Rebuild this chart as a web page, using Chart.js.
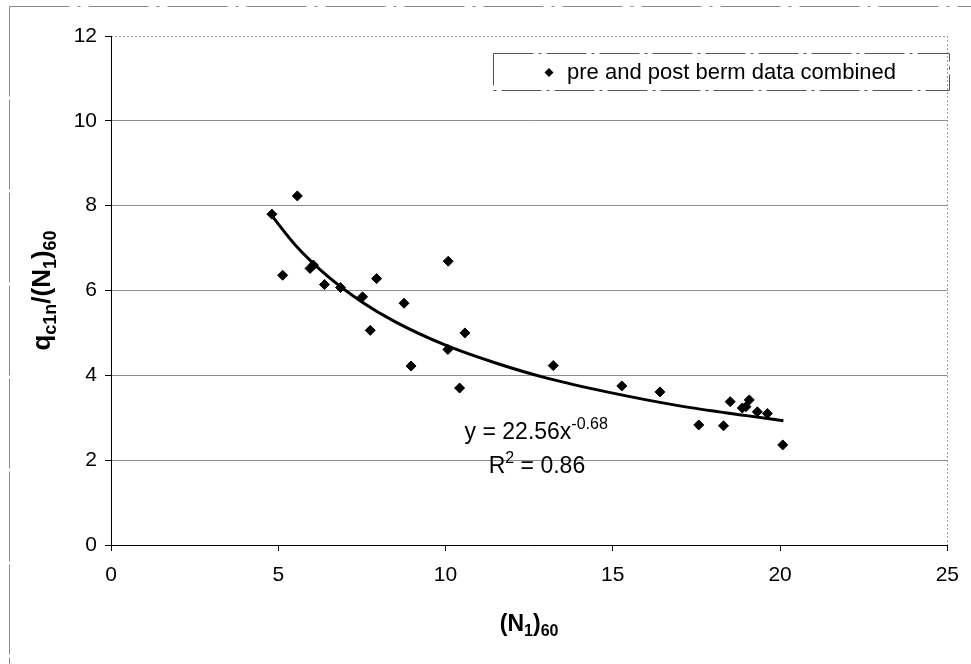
<!DOCTYPE html>
<html>
<head>
<meta charset="utf-8">
<script src="https://cdn.jsdelivr.net/npm/chart.js@4/dist/chart.umd.min.js"></script>
<style>
  html, body { margin: 0; padding: 0; background: #fff; }
  #wrap { width: 971px; height: 664px; position: relative; }
</style>
</head>
<body>
<div id="wrap"><canvas id="c" width="971" height="664"></canvas></div>
<script>
// ---- data ----
const seriesLabel = "pre and post berm data combined";
const xValues = [4.81, 5.57, 5.13, 5.95, 6.05, 6.38, 6.86, 7.94, 7.52, 8.76, 7.75, 10.08, 10.58, 10.07, 8.97, 10.42,
                 13.22, 15.27, 16.41, 17.57, 18.31, 18.51, 19.08, 18.98, 18.87, 19.32, 19.62, 20.08];
const yValues = [7.80, 8.23, 6.36, 6.52, 6.60, 6.14, 6.07, 6.28, 5.85, 5.70, 5.06, 6.69, 5.00, 4.61, 4.22, 3.70,
                 4.23, 3.75, 3.61, 2.83, 2.81, 3.38, 3.42, 3.26, 3.23, 3.14, 3.10, 2.36];
// trendline points
const trendX = [4.8, 5.5, 6.5, 7.5, 8.5, 10, 11.5, 13, 15, 17, 19, 20.1];
const trendY = [7.77, 7.08, 6.32, 5.73, 5.26, 4.71, 4.29, 3.94, 3.58, 3.28, 3.05, 2.93];
const xTicks = [0, 5, 10, 15, 20, 25];
const yTicks = [0, 2, 4, 6, 8, 10, 12];
const equationText = "y = 22.56x";
const equationExp = "-0.68";
const r2Text = " = 0.86";

const FONT = "'Liberation Sans', Arial, sans-serif";

function drawRich(ctx, parts, x, y, size, bold, align) {
  // parts: [text, mode] mode: 0 normal, 1 sub, 2 sup
  const w = parts.map(p => {
    const s = p[1] ? Math.round(size * 0.68) : size;
    ctx.font = (bold ? "bold " : "") + s + "px " + FONT;
    return ctx.measureText(p[0]).width;
  });
  const total = w.reduce((a, b) => a + b, 0);
  let cx = align === 'center' ? x - total / 2 : x;
  ctx.textBaseline = 'middle';
  ctx.textAlign = 'left';
  parts.forEach((p, i) => {
    const s = p[1] ? Math.round(size * 0.68) : size;
    ctx.font = (bold ? "bold " : "") + s + "px " + FONT;
    let dy = 0;
    if (p[1] === 1) dy = size * 0.3;
    if (p[1] === 2) dy = -size * 0.35;
    ctx.fillText(p[0], cx, y + dy);
    cx += w[i];
  });
}

const decor = {
  id: 'decor',
  beforeDraw(chart) {
    const ctx = chart.ctx;
    ctx.save();
    ctx.fillStyle = '#fff';
    ctx.fillRect(0, 0, chart.width, chart.height);
    // outer frame (top and left)
    ctx.strokeStyle = '#8a8a8a';
    ctx.lineWidth = 1;
    ctx.setLineDash([60, 8, 3, 8]);
    ctx.beginPath();
    ctx.moveTo(9.5, 6.5); ctx.lineTo(chart.width, 6.5);
    ctx.stroke();
    ctx.setLineDash([90, 3]);
    ctx.beginPath();
    ctx.moveTo(9.5, 6.5); ctx.lineTo(9.5, chart.height);
    ctx.stroke();
    ctx.restore();
  },
  afterDatasetsDraw(chart) {
    const ctx = chart.ctx;
    const a = chart.chartArea;
    const xs = chart.scales.x, ys = chart.scales.y;
    ctx.save();
    // plot border: top and right dotted grey
    ctx.strokeStyle = '#9a9a9a';
    ctx.lineWidth = 1;
    ctx.setLineDash([2, 2]);
    ctx.beginPath();
    ctx.moveTo(a.left, Math.round(a.top) + 0.5); ctx.lineTo(a.right, Math.round(a.top) + 0.5);
    ctx.moveTo(Math.round(a.right) + 0.5, a.top); ctx.lineTo(Math.round(a.right) + 0.5, a.bottom);
    ctx.stroke();
    ctx.setLineDash([]);
    ctx.strokeStyle = '#000';
    ctx.beginPath();
    ctx.moveTo(Math.round(a.left) + 0.5, a.top); ctx.lineTo(Math.round(a.left) + 0.5, a.bottom);
    ctx.moveTo(a.left, Math.round(a.bottom) + 0.5); ctx.lineTo(a.right, Math.round(a.bottom) + 0.5);
    ctx.stroke();

    // legend box
    const lx = 493, ly = 53, lw = 456, lh = 37;
    ctx.strokeStyle = '#555';
    ctx.setLineDash([40, 5, 3, 5]);
    ctx.strokeRect(lx + 0.5, ly + 0.5, lw, lh);
    ctx.setLineDash([]);
    // marker
    ctx.fillStyle = '#000';
    ctx.beginPath();
    const mx = 549, my = ly + lh / 2 + 1, mr = 4.5;
    ctx.moveTo(mx, my - mr); ctx.lineTo(mx + mr, my); ctx.lineTo(mx, my + mr); ctx.lineTo(mx - mr, my); ctx.closePath();
    ctx.fill();
    ctx.font = "22px " + FONT;
    ctx.textBaseline = 'middle';
    ctx.textAlign = 'left';
    ctx.fillText(chart.data.datasets[0].label, 567, my);

    // equation annotations anchored to data coordinates
    ctx.fillStyle = '#000';
    drawRich(ctx, [[equationText, 0], [equationExp, 2]], xs.getPixelForValue(10.57), ys.getPixelForValue(2.66), 23, false, 'left');
    drawRich(ctx, [["R", 0], ["2", 2], [r2Text, 0]], xs.getPixelForValue(11.29), ys.getPixelForValue(1.84), 23, false, 'left');

    // axis titles
    drawRich(ctx, [["(N", 0], ["1", 1], [")", 0], ["60", 1]], (a.left + a.right) / 2, 625, 23, true, 'center');
    ctx.save();
    ctx.translate(43, (a.top + a.bottom) / 2);
    ctx.rotate(-Math.PI / 2);
    drawRich(ctx, [["q", 0], ["c1n", 1], ["/(N", 0], ["1", 1], [")", 0], ["60", 1]], 0, 0, 26, true, 'center');
    ctx.restore();
    ctx.restore();
  }
};

new Chart(document.getElementById('c'), {
  type: 'scatter',
  data: {
    datasets: [
      {
        label: seriesLabel,
        data: xValues.map((x, i) => ({ x: x, y: yValues[i] })),
        pointStyle: 'rectRot',
        pointRadius: 5,
        pointBackgroundColor: '#000',
        pointBorderColor: '#000',
        pointBorderWidth: 1,
        order: 1
      },
      {
        label: 'Power trendline',
        type: 'line',
        data: trendX.map((x, i) => ({ x: x, y: trendY[i] })),
        borderColor: '#000',
        borderWidth: 3,
        pointRadius: 0,
        fill: false,
        cubicInterpolationMode: 'monotone',
        order: 2
      }
    ]
  },
  options: {
    responsive: false,
    animation: false,
    layout: { padding: { top: 36, right: 16, left: 0, bottom: 0 } },
    plugins: { legend: { display: false }, tooltip: { enabled: false } },
    scales: {
      x: {
        type: 'linear', min: 0, max: 25,
        afterBuildTicks: s => { s.ticks = xTicks.map(v => ({ value: v })); },
        afterFit: s => { s.height = 119; },
        border: { display: false },
        grid: { drawOnChartArea: false, drawTicks: true, tickLength: 6, tickColor: '#000' },
        ticks: { color: '#000', font: { family: FONT, size: 21 }, padding: 12, maxRotation: 0 }
      },
      y: {
        type: 'linear', min: 0, max: 12,
        afterBuildTicks: s => { s.ticks = yTicks.map(v => ({ value: v })); },
        afterFit: s => { s.width = 111; },
        border: { display: false },
        grid: {
          color: ctx => (ctx.tick && (ctx.tick.value === 0 || ctx.tick.value === 12)) ? 'rgba(0,0,0,0)' : '#8c8c8c',
          lineWidth: 1,
          tickLength: 6,
          tickColor: '#000'
        },
        ticks: { color: '#000', font: { family: FONT, size: 21 }, padding: 8 }
      }
    }
  },
  plugins: [decor]
});
</script>
</body>
</html>
